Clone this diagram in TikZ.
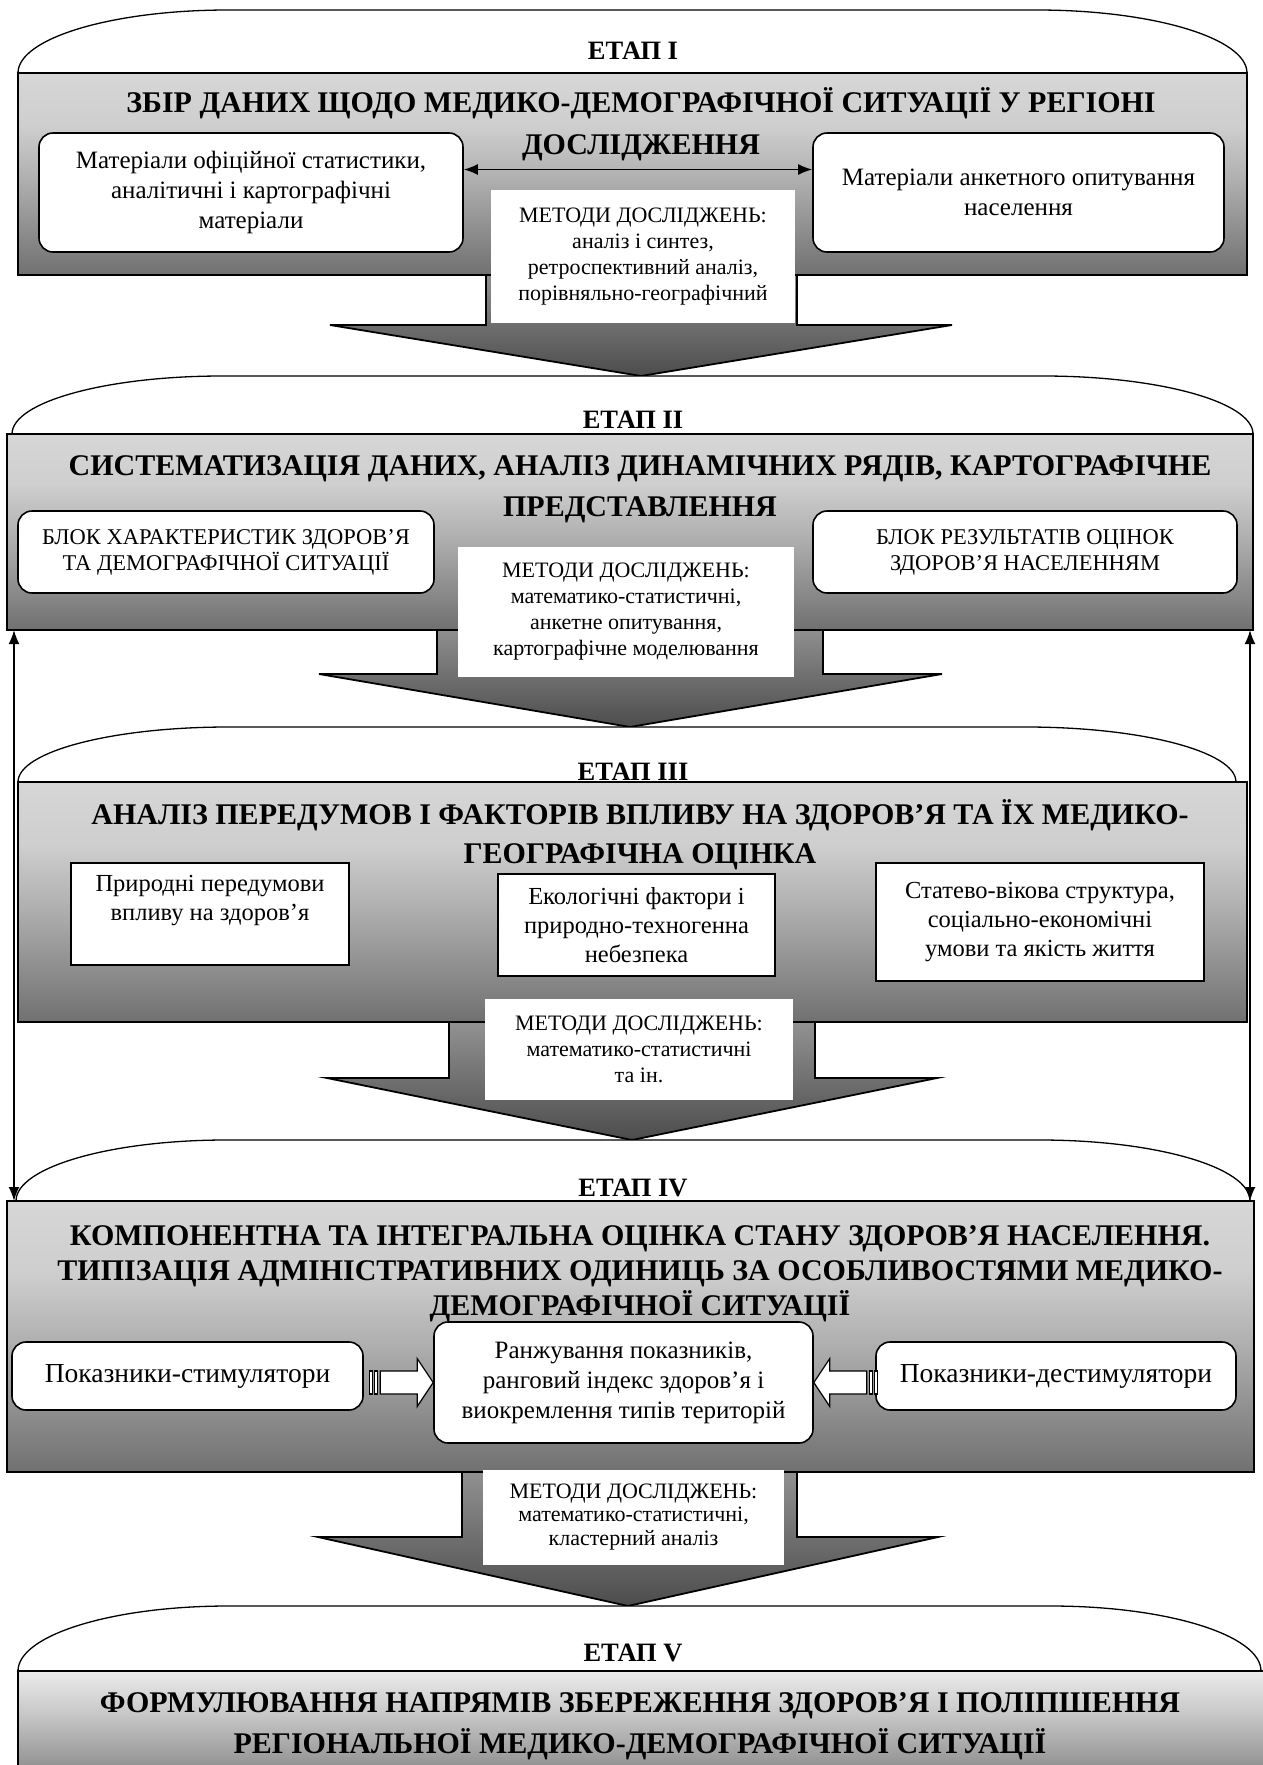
\documentclass[tikz,border=0pt]{standalone}
\usepackage{fontspec}
\setmainfont{Liberation Serif}
\usetikzlibrary{arrows.meta}
\pgfdeclareverticalshading{stagegrad}{100bp}{color(0bp)=(black!56); color(25bp)=(black!56); color(48bp)=(black!32); color(62bp)=(black!19); color(75bp)=(black!16); color(100bp)=(black!16)}
\pgfdeclareverticalshading{lastgrad}{100bp}{color(0bp)=(black!48); color(25bp)=(black!48); color(55bp)=(black!22); color(75bp)=(black!8); color(100bp)=(black!8)}
\pgfdeclareverticalshading{arrowgrad}{100bp}{color(0bp)=(black!70); color(25bp)=(black!70); color(75bp)=(black!40); color(100bp)=(black!40)}
\newcommand{\myftitle}{\bfseries\fontsize{30}{42}\selectfont}
\newcommand{\myfetap}{\bfseries\fontsize{26.5}{30}\selectfont}
\newcommand{\myfbody}{\fontsize{25}{30}\selectfont}
\newcommand{\myfthree}{\fontsize{24.5}{29}\selectfont}
\newcommand{\myfside}{\fontsize{27.5}{32}\selectfont}
\newcommand{\myfmeth}{\fontsize{22}{26}\selectfont}
\newcommand{\myfcaps}{\fontsize{22.5}{26}\selectfont}
\newcommand{\myarch}[4]{\draw[archline] (#1,#4) .. controls (#1,{#3+0.448*(#4-#3)}) and ({#1+94},#3) .. ({#1+210},#3) -- ({#2-210},#3) .. controls ({#2-94},#3) and (#2,{#3+0.448*(#4-#3)}) .. (#2,#4);}
\begin{document}
\begin{tikzpicture}[x=1pt,y=-1pt,
  archline/.style={draw=black,line width=1.3pt,fill=white},
  stagerect/.style={draw=black,line width=2.4pt,shading=stagegrad},
  lastrect/.style={draw=black,line width=2.4pt,shading=lastgrad},
  bigarrow/.style={draw=black,line width=1.8pt,line join=miter,shading=arrowgrad},
  rbox/.style={draw=black,line width=1.6pt,fill=white,rounded corners=14pt,inner sep=0pt,align=center},
  sbox/.style={draw=black,line width=1.3pt,fill=white,inner sep=0pt,align=center},
  mbox/.style={fill=white,inner sep=0pt,align=center,font=\myfmeth},
  etap/.style={font=\myfetap,inner sep=0pt},
  ttl/.style={font=\myftitle,align=center,inner sep=0pt},
  warrow/.style={draw=black,line width=1.2pt,fill=white,line join=miter},
  link/.style={draw=black,line width=1.8pt,{Latex[length=14pt,width=11pt]}-{Latex[length=14pt,width=11pt]}},
]
\useasboundingbox (0,0) rectangle (1263,1765);
\fill[white] (0,0) rectangle (1263,1765);

% ---------- STAGE I
\myarch{18}{1247}{10}{73}
\node[etap] (e1) at (633,51) {ЕТАП I};
\draw[bigarrow] (486,260) -- (486,325) -- (330,325) -- (641,376) -- (952,325) -- (797,325) -- (797,260) -- cycle;
\draw[stagerect] (18,73) rectangle (1247,275);
\node[ttl] (t1) at (641,124) {ЗБІР ДАНИХ ЩОДО МЕДИКО-ДЕМОГРАФІЧНОЇ СИТУАЦІЇ У РЕГІОНІ\\ДОСЛІДЖЕННЯ};
\node[rbox,font=\myfbody,minimum width=424pt,minimum height=119pt] (s1l) at (251,192.5) {Матеріали офіційної статистики,\\аналітичні і картографічні\\матеріали};
\node[rbox,font=\myfbody,minimum width=411pt,minimum height=119pt] (s1r) at (1018.5,192.5) {Матеріали анкетного опитування\\населення};
\draw[link,line width=1.6pt] ([yshift=23pt]s1l.east) -- ([yshift=23pt]s1r.west);
\node[mbox,minimum width=304pt,minimum height=133pt] (m1) at (643,256.5) {МЕТОДИ ДОСЛІДЖЕНЬ:\\аналіз і синтез,\\ретроспективний аналіз,\\порівняльно-географічний};

% ---------- STAGE II
\myarch{12}{1253}{376}{434}
\node[etap] (e2) at (633,420) {ЕТАП II};
\draw[bigarrow] (437,615) -- (437,674) -- (319,674) -- (630,727) -- (942,674) -- (823,674) -- (823,615) -- cycle;
\draw[stagerect] (7,434) rectangle (1253,630);
\node[ttl,font=\bfseries\fontsize{30}{41}\selectfont] (t2) at (640,489) {СИСТЕМАТИЗАЦІЯ ДАНИХ, АНАЛІЗ ДИНАМІЧНИХ РЯДІВ, КАРТОГРАФІЧНЕ\\ПРЕДСТАВЛЕННЯ};
\node[rbox,font=\myfcaps,minimum width=416pt,minimum height=82pt] (s2l) at (226,552) {БЛОК ХАРАКТЕРИСТИК ЗДОРОВ’Я\\ТА ДЕМОГРАФІЧНОЇ СИТУАЦІЇ};
\node[rbox,font=\myfcaps,minimum width=424pt,minimum height=82pt] (s2r) at (1025,552) {БЛОК РЕЗУЛЬТАТІВ ОЦІНОК\\ЗДОРОВ’Я НАСЕЛЕННЯМ};
\node[mbox,minimum width=336pt,minimum height=130pt] (m2) at (626,612) {МЕТОДИ ДОСЛІДЖЕНЬ:\\математико-статистичні,\\анкетне опитування,\\картографічне моделювання};

% ---------- STAGE III
\myarch{18}{1236}{727}{782}
\node[etap] (e3) at (633,772) {ЕТАП III};
\draw[bigarrow] (449,1010) -- (449,1078) -- (327,1078) -- (632,1140) -- (937,1078) -- (815,1078) -- (815,1010) -- cycle;
\draw[stagerect] (18,782) rectangle (1247,1022);
\node[ttl,font=\bfseries\fontsize{30}{39}\selectfont] (t3) at (640,835) {АНАЛІЗ ПЕРЕДУМОВ І ФАКТОРІВ ВПЛИВУ НА ЗДОРОВ’Я ТА ЇХ МЕДИКО-\\ГЕОГРАФІЧНА ОЦІНКА};
\node[sbox,minimum width=278pt,minimum height=102pt] (s3a) at (210,914) {};
\node[font=\myfthree,align=center,inner sep=0pt] (s3at) at (210,901) {Природні передумови\\впливу на здоров’я};
\node[sbox,font=\myfthree,minimum width=277pt,minimum height=102pt] (s3b) at (636.5,925) {Екологічні фактори і\\природно-техногенна\\небезпека};
\node[sbox,font=\myfthree,minimum width=328pt,minimum height=118pt] (s3c) at (1040,922) {Статево-вікова структура,\\соціально-економічні\\умови та якість життя};
\node[mbox,minimum width=308pt,minimum height=101pt] (m3) at (639,1049.5) {МЕТОДИ ДОСЛІДЖЕНЬ:\\математико-статистичні\\та ін.};

% ---------- STAGE IV
\myarch{16}{1250}{1140}{1201}
\node[etap] (e4) at (633,1188) {ЕТАП IV};
\draw[bigarrow] (462,1455) -- (462,1537) -- (318,1537) -- (628,1606) -- (938,1537) -- (797,1537) -- (797,1455) -- cycle;
\draw[stagerect] (7,1201) rectangle (1254,1472);
\node[ttl,font=\bfseries\fontsize{30}{35}\selectfont] (t4) at (640,1274) {КОМПОНЕНТНА ТА ІНТЕГРАЛЬНА ОЦІНКА СТАНУ ЗДОРОВ’Я НАСЕЛЕННЯ.\\ТИПІЗАЦІЯ АДМІНІСТРАТИВНИХ ОДИНИЦЬ ЗА ОСОБЛИВОСТЯМИ МЕДИКО-\\ДЕМОГРАФІЧНОЇ СИТУАЦІЇ};
\node[rbox,font=\myfside,minimum width=351pt,minimum height=68pt] (s4l) at (187.5,1376) {Показники-стимулятори};
\node[rbox,font=\myfbody,minimum width=379pt,minimum height=121pt] (s4m) at (623.5,1382.5) {Ранжування показників,\\ранговий індекс здоров’я і\\виокремлення типів територій};
\node[rbox,font=\myfside,minimum width=360pt,minimum height=68pt] (s4r) at (1056,1376) {Показники-дестимулятори};
\begin{scope}[shift={(s4m.west)}]
  \draw[warrow] (0,0) -- (-16,-24) -- (-16,-11.5) -- (-53,-11.5) -- (-53,11.5) -- (-16,11.5) -- (-16,24) -- cycle;
  \draw[warrow] (-64,-11.5) rectangle (-61,11.5);
  \draw[warrow] (-59,-11.5) rectangle (-56,11.5);
\end{scope}
\begin{scope}[shift={(s4m.east)},xscale=-1]
  \draw[warrow] (0,0) -- (-16,-24) -- (-16,-11.5) -- (-53,-11.5) -- (-53,11.5) -- (-16,11.5) -- (-16,24) -- cycle;
  \draw[warrow] (-64,-11.5) rectangle (-61,11.5);
  \draw[warrow] (-59,-11.5) rectangle (-56,11.5);
\end{scope}
\node[mbox,font=\fontsize{22}{23.5}\selectfont,minimum width=301pt,minimum height=95pt] (m4) at (633.5,1517) {МЕТОДИ ДОСЛІДЖЕНЬ:\\математико-статистичні,\\кластерний аналіз};

% ---------- side links
\coordinate (la) at (14,630);
\coordinate (lb) at (14,1201);
\coordinate (ra) at (1250,630);
\coordinate (rb) at (1250,1201);
\draw[link] (lb) -- (la);
\draw[link] (rb) -- (ra);

% ---------- STAGE V
\myarch{18}{1261}{1606}{1671}
\node[etap] (e5) at (633,1653) {ЕТАП V};
\draw[lastrect] (18,1671) rectangle (1275,1780);
\node[ttl,font=\bfseries\fontsize{30}{41}\selectfont] (t5) at (640,1726) {ФОРМУЛЮВАННЯ НАПРЯМІВ ЗБЕРЕЖЕННЯ ЗДОРОВ’Я І ПОЛІПШЕННЯ\\РЕГІОНАЛЬНОЇ МЕДИКО-ДЕМОГРАФІЧНОЇ СИТУАЦІЇ};
\end{tikzpicture}
\end{document}
